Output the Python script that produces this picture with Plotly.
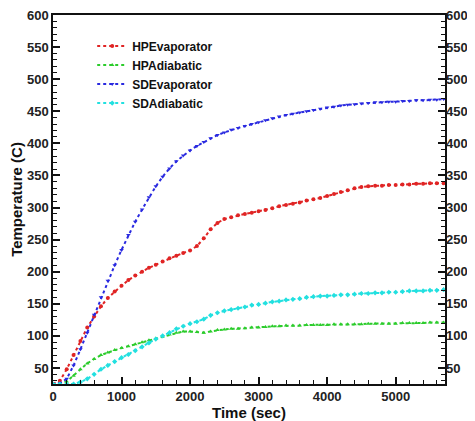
import plotly.graph_objects as go

time_s = list(range(0, 5800, 100))

hp_evaporator = [25, 30, 48, 70, 92, 113, 130, 146, 159, 169,
                 178, 187, 194, 200, 206, 211, 216, 221, 225, 229,
                 233, 240, 252, 266, 276, 282, 285, 288, 290, 292,
                 294, 296, 299, 302, 304, 306, 308, 311, 313, 315,
                 318, 321, 324, 327, 330, 332, 333, 334, 334, 335,
                 335, 336, 336, 337, 337, 338, 338, 338]

hp_adiabatic = [25, 25, 29, 38, 48, 57, 64, 70, 74, 78,
                81, 84, 87, 90, 93, 96, 99, 102, 105, 107,
                107, 106, 105, 107, 109, 110, 111, 111, 112, 113,
                113, 114, 115, 115, 116, 116, 116, 117, 117, 117,
                117, 118, 118, 118, 118, 118, 119, 119, 119, 119,
                119, 120, 120, 120, 120, 121, 121, 121]

sd_evaporator = [25, 26, 33, 54, 79, 105, 133, 160, 186, 210,
                 234, 257, 278, 297, 316, 333, 348, 361, 372, 381,
                 389, 396, 402, 408, 413, 417, 421, 424, 427, 430,
                 433, 436, 439, 442, 444, 446, 448, 450, 452, 454,
                 456, 457, 459, 460, 461, 462, 463, 464, 464, 465,
                 465, 466, 466, 467, 467, 468, 468, 469]

sd_adiabatic = [25, 25, 25, 25, 28, 33, 40, 48, 54, 60,
                66, 71, 77, 83, 89, 95, 100, 105, 111, 115,
                119, 122, 126, 132, 136, 139, 141, 143, 145, 148,
                149, 151, 153, 154, 156, 157, 158, 160, 161, 162,
                162, 163, 164, 164, 165, 166, 166, 167, 167, 168,
                168, 169, 170, 170, 170, 171, 171, 172]

y_ticks = [50, 100, 150, 200, 250, 300, 350, 400, 450, 500, 550, 600]
x_ticks = [0, 1000, 2000, 3000, 4000, 5000]

FONT = "Liberation Sans, Arial, sans-serif"

series = [
    ("HPEvaporator", hp_evaporator, "#e02424", "circle"),
    ("HPAdiabatic", hp_adiabatic, "#2ccc2c", "triangle-up"),
    ("SDEvaporator", sd_evaporator, "#2a2ae0", "triangle-down"),
    ("SDAdiabatic", sd_adiabatic, "#22e0e0", "diamond"),
]

fig = go.Figure()
for name, vals, col, sym in series:
    fig.add_trace(go.Scatter(
        x=time_s, y=vals, name=name, mode="lines+markers",
        line=dict(color=col, width=2, dash="dot"),
        marker=dict(color=col, symbol=sym, size=4),
        cliponaxis=True,
    ))

# invisible trace for right axis
fig.add_trace(go.Scatter(x=[time_s[0]], y=[hp_evaporator[0]], yaxis="y2",
                         mode="markers", marker=dict(opacity=0),
                         showlegend=False, hoverinfo="skip"))

axis_font = dict(family=FONT, size=13, color="#222222", weight="bold")

fig.update_layout(
    width=467, height=413,
    margin=dict(l=45, r=30, t=7, b=37, autoexpand=False),
    paper_bgcolor="white", plot_bgcolor="white",
    showlegend=True,
    legend=dict(x=0.1, y=0.955, xanchor="left", yanchor="top",
                bgcolor="rgba(0,0,0,0)",
                font=dict(family=FONT, size=12, color="#111111", weight="bold"),
                tracegroupgap=0, itemwidth=30),
    xaxis=dict(
        range=[0, 5720], tickvals=x_ticks, ticktext=[str(v) for v in x_ticks],
        ticks="inside", ticklen=7, tickwidth=1.5, tickcolor="#111",
        minor=dict(dtick=200, ticks="inside", ticklen=4, tickcolor="#111", tickwidth=1),
        showline=True, linecolor="#111", linewidth=1.5, mirror=True,
        showgrid=False, zeroline=False, automargin=False,
        ticklabeloverflow="allow",
        tickfont=axis_font,
        title=dict(text="Time (sec)", font=dict(family=FONT, size=15, color="#111", weight="bold"),
                   standoff=2),
    ),
    yaxis=dict(
        range=[25, 600], tickvals=y_ticks, ticktext=[str(v) for v in y_ticks],
        ticks="inside", ticklen=7, tickwidth=1.5, tickcolor="#111",
        minor=dict(dtick=10, ticks="inside", ticklen=4, tickcolor="#111", tickwidth=1),
        showline=True, linecolor="#111", linewidth=1.5, mirror=True,
        showgrid=False, zeroline=False, automargin=False,
        ticklabeloverflow="allow",
        tickfont=axis_font,
        title=dict(text="Temperature (C)", font=dict(family=FONT, size=15, color="#111", weight="bold"),
                   standoff=4),
    ),
    yaxis2=dict(
        range=[25, 600], tickvals=y_ticks, ticktext=[str(v) for v in y_ticks],
        overlaying="y", side="right",
        ticks="inside", ticklen=7, tickwidth=1.5, tickcolor="#111",
        minor=dict(dtick=10, ticks="inside", ticklen=4, tickcolor="#111", tickwidth=1),
        showline=False, showgrid=False, zeroline=False, automargin=False,
        ticklabeloverflow="allow",
        tickfont=axis_font,
    ),
)

fig.write_html("out.html")
